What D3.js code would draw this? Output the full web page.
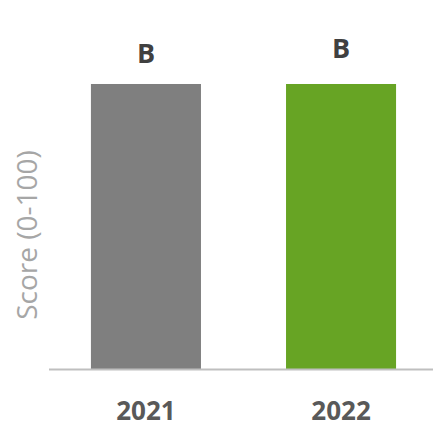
<!DOCTYPE html>
<html>
<head>
<meta charset="utf-8">
<script src="https://cdn.jsdelivr.net/npm/d3@7"></script>
<style>
  body { margin: 0; background: #fff; }
  svg text { font-family: "Open Sans", sans-serif; }
</style>
</head>
<body>
<div id="chart"></div>
<script>
// chart data
const years = ["2021", "2022"];
const scores = [85, 85];
const grades = ["B", "B"];
const barColors = ["#7f7f7f", "#67a424"];

const w = 433, h = 429;

const chart = d3.select("#chart")
  .append("svg")
  .attr("width", w)
  .attr("height", h);

const x = d3.scaleBand()
  .domain(years)
  .range([49, 438])
  .paddingInner(0.436)
  .paddingOuter(0.215);

const y = d3.scaleLinear()
  .domain([0, 100])
  .range([369, 33.7]);

chart.selectAll("rect.bar")
  .data(years)
  .enter().append("rect")
  .attr("class", "bar")
  .attr("x", d => x(d))
  .attr("width", x.bandwidth())
  .attr("y", (d, i) => y(scores[i]))
  .attr("height", (d, i) => y(0) - y(scores[i]))
  .attr("fill", (d, i) => barColors[i]);

// baseline
const xAxis = d3.axisBottom(x).tickSize(0);
const gx = chart.append("g")
  .attr("transform", "translate(0," + y(0) + ")")
  .call(xAxis);
gx.select(".domain")
  .attr("d", "M49,0.5H" + w)
  .attr("stroke", "#bfbfbf")
  .attr("stroke-width", 2);
gx.selectAll("text")
  .attr("font-family", "Open Sans, sans-serif")
  .attr("font-size", 26)
  .attr("font-weight", "bold")
  .attr("fill", "#595959")
  .attr("y", 51)
  .attr("dy", 0);

// grade labels
chart.selectAll("text.grade")
  .data(years)
  .enter().append("text")
  .attr("class", "grade")
  .attr("x", d => x(d) + x.bandwidth() / 2)
  .attr("y", (d, i) => y(scores[i]) - 21 - (i === 1 ? 5 : 0))
  .attr("text-anchor", "middle")
  .attr("font-size", 27)
  .attr("font-weight", "bold")
  .attr("fill", "#404040")
  .text((d, i) => grades[i]);

// y title
chart.append("text")
  .attr("transform", "translate(37,235) rotate(-90)")
  .attr("text-anchor", "middle")
  .attr("font-size", 28)
  .attr("fill", "#a6a6a6")
  .text("Score (0-100)");
</script>
</body>
</html>
